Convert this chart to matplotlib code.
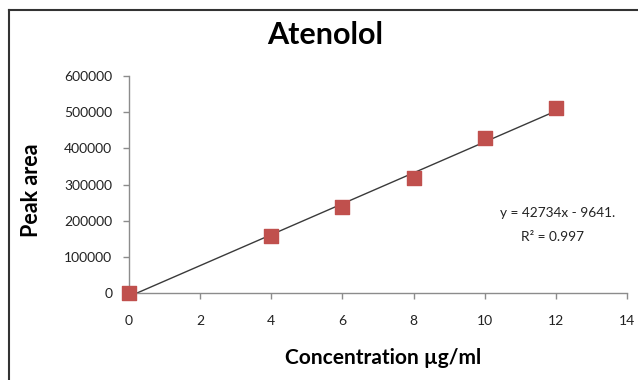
import matplotlib
matplotlib.use('Agg')
import matplotlib.pyplot as plt
from matplotlib.lines import Line2D

plt.rcParams['font.family'] = ['Lato', 'DejaVu Sans']

# data
conc = [0, 4, 6, 8, 10, 12]
peak_area = [0, 158400, 238600, 317000, 429400, 511000]
slope = 42734
intercept = -9641
r2 = 0.997
x_ticks = [0, 2, 4, 6, 8, 10, 12, 14]
y_ticks = [0, 100000, 200000, 300000, 400000, 500000, 600000]

fig = plt.figure(figsize=(6.38, 3.8), dpi=100)
ax = fig.add_axes([0.2022, 0.2289, 0.7806, 0.5711])

# linear trendline, clipped to the plot area like excel does
x0 = -intercept / slope
x1 = max(conc)
ax.plot([x0, x1], [slope * x0 + intercept, slope * x1 + intercept],
        color='#3a3a3a', lw=1.0, zorder=2)
ax.scatter(conc, peak_area, marker='s', s=110, color='#C0504D',
           edgecolors='#C0504D', zorder=3, clip_on=False)

ax.set_xlim(0, 14)
ax.set_ylim(0, 600000)
ax.set_xticks(x_ticks)
ax.set_yticks(y_ticks)
ax.set_xticklabels([str(t) for t in x_ticks])
ax.set_yticklabels([str(t) for t in y_ticks])

for s in ['top', 'right']:
    ax.spines[s].set_visible(False)
for s in ['left', 'bottom']:
    ax.spines[s].set_color('#8c8c8c')
    ax.spines[s].set_linewidth(1.0)
ax.tick_params(axis='both', colors='#8c8c8c', labelcolor='#222222',
               labelsize=10, length=4, width=1.0, direction='out')
ax.tick_params(axis='y', pad=8)
ax.tick_params(axis='x', pad=12)

ax.text(0.745, 0.369, f'y = {slope}x - {abs(intercept)}.',
        transform=ax.transAxes, ha='left', va='center', fontsize=9.8,
        color='#222222')
ax.text(0.851, 0.258, f'R² = {r2}', transform=ax.transAxes,
        ha='center', va='center', fontsize=9.8, color='#222222')

fig.text(0.51, 0.908, 'Atenolol', ha='center', va='center',
         fontsize=22, fontweight='bold')
fig.text(0.05, 0.5, 'Peak area', ha='center', va='center',
         rotation=90, fontsize=15.5, fontweight='bold')
fig.text(0.6, 0.058, 'Concentration µg/ml', ha='center', va='center',
         fontsize=15, fontweight='bold')

# outer chart border (only top and left visible in the crop)
fig.add_artist(Line2D([9 / 638, 9 / 638], [0, 1 - 10 / 380],
                      transform=fig.transFigure, color='#333333', lw=1.5))
fig.add_artist(Line2D([9 / 638, 1], [1 - 10 / 380, 1 - 10 / 380],
                      transform=fig.transFigure, color='#333333', lw=1.5))

fig.savefig('out.png', dpi=100)
